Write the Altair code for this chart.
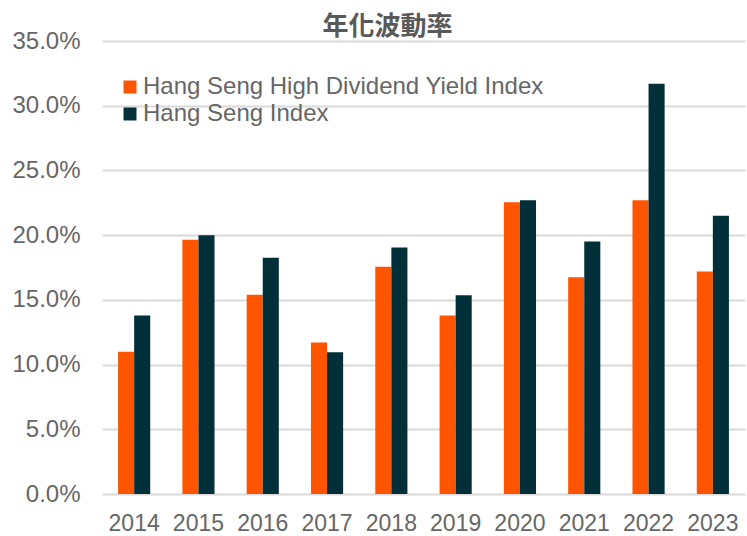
import altair as alt
import pandas as pd

years = ["2014", "2015", "2016", "2017", "2018", "2019", "2020", "2021", "2022", "2023"]
hsi_hdy = [11.0, 19.65, 15.4, 11.7, 17.55, 13.8, 22.55, 16.75, 22.7, 17.2]
hsi = [13.8, 20.0, 18.25, 10.95, 19.05, 15.35, 22.7, 19.5, 31.7, 21.5]
series = ["Hang Seng High Dividend Yield Index", "Hang Seng Index"]
colors = ["#FF5500", "#02303A"]

rows = []
for y, a, b in zip(years, hsi_hdy, hsi):
    rows.append({"year": y, "series": series[0], "value": a})
    rows.append({"year": y, "series": series[1], "value": b})
df = pd.DataFrame(rows)

FONT = "Liberation Sans"

chart = alt.Chart(df).mark_bar().encode(
    x=alt.X("year:N", sort=years,
            scale=alt.Scale(paddingInner=0.5, paddingOuter=0.25),
            axis=alt.Axis(title=None, labelAngle=0, ticks=False, domain=False,
                          labelFontSize=23, labelColor="#666666", labelFont=FONT,
                          labelPadding=18, grid=False)),
    xOffset=alt.XOffset("series:N", sort=series),
    y=alt.Y("value:Q", scale=alt.Scale(domain=[0, 35]),
            axis=alt.Axis(title=None, values=[0, 5, 10, 15, 20, 25, 30, 35],
                          labelExpr="format(datum.value, '.1f') + '%'",
                          ticks=False, domain=False, labelFontSize=24,
                          labelColor="#666666", labelFont=FONT, labelPadding=22,
                          gridColor="#D9D9D9", gridWidth=2)),
    color=alt.Color("series:N", sort=series,
                    scale=alt.Scale(domain=series, range=colors),
                    legend=alt.Legend(title=None, orient="none", legendX=16, legendY=34,
                                      symbolType="square", symbolSize=169,
                                      symbolStrokeWidth=0, labelFontSize=24,
                                      labelColor="#666666", labelFont=FONT,
                                      labelLimit=0, rowPadding=3, labelOffset=1)),
).properties(
    width=643, height=453,
    title=alt.TitleParams("年化波動率", fontSize=26, fontWeight="bold", color="#595959",
                          font="Noto Sans CJK TC", anchor="middle", dx=-36, dy=17, offset=6),
    autosize=alt.AutoSizeParams(type="none"),
    padding={"left": 102, "top": 41, "right": 2, "bottom": 42},
).configure_view(stroke=None)

chart.save("out.html", embed_options={"renderer": "svg", "actions": False})
